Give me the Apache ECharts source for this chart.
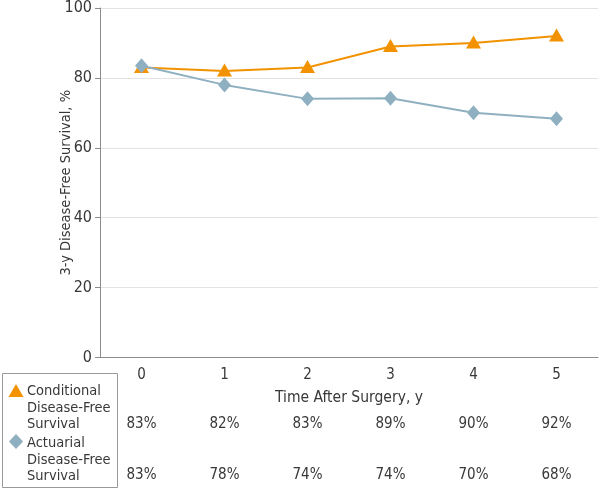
<!DOCTYPE html>
<html>
<head>
<meta charset="utf-8">
<script src="https://cdn.jsdelivr.net/npm/echarts@6/dist/echarts.min.js"></script>
<style>html,body{margin:0;padding:0;background:#fff;}#c{width:600px;height:490px;}</style>
</head>
<body>
<div id="c"></div>
<script>
var years = ['0', '1', '2', '3', '4', '5'];
var conditionalValues = [83, 82, 83, 89, 90, 92];
var actuarialValues = [83.5, 78, 74, 74.2, 70, 68.3];
var conditionalLabels = ['83%', '82%', '83%', '89%', '90%', '92%'];
var actuarialLabels = ['83%', '78%', '74%', '74%', '70%', '68%'];
var seriesNames = ['Conditional\nDisease-Free\nSurvival', 'Actuarial\nDisease-Free\nSurvival'];
var yTicks = [0, 20, 40, 60, 80, 100];

var FONT = '"DejaVu Sans Condensed", "DejaVu Sans", sans-serif';
var TXT = '#383838';
var ORANGE = '#F39200';
var BLUE = '#8FB0C0';

var chart = echarts.init(document.getElementById('c'), null, {renderer: 'canvas'});

function legendTexts(name, y0) {
  return name.split('\n').map(function (line, i) {
    return {
      type: 'text', left: 27, top: y0 + i * 16.5 - 8,
      style: {text: line, font: '14.5px ' + FONT, fill: TXT}
    };
  });
}

var graphics = [
  {type: 'rect', shape: {x: 2.5, y: 373.5, width: 115, height: 114}, style: {fill: 'none', stroke: '#999', lineWidth: 1}},
  {type: 'polygon', shape: {points: [[16, 384], [23.5, 397], [8.5, 397]]}, style: {fill: ORANGE}},
  {type: 'polygon', shape: {points: [[16, 434], [23, 441.5], [16, 449], [9, 441.5]]}, style: {fill: BLUE}}
].concat(legendTexts(seriesNames[0], 392)).concat(legendTexts(seriesNames[1], 444));

var baseX = {
  type: 'category', gridIndex: 0, position: 'bottom',
  boundaryGap: true,
  axisLine: {show: false}, axisTick: {show: false}, splitLine: {show: false},
  axisLabel: {fontFamily: FONT, fontSize: 15, color: TXT, margin: 10.5, interval: 0}
};

chart.setOption({
  animation: false,
  textStyle: {fontFamily: FONT},
  grid: {left: 100, right: 2, top: 6.5, bottom: 132.5, containLabel: false},
  xAxis: [
    {
      type: 'category', data: years, boundaryGap: true,
      name: 'Time After Surgery, y', nameLocation: 'middle', nameGap: 32,
      nameTextStyle: {fontFamily: FONT, fontSize: 15.5, color: TXT},
      axisLine: {lineStyle: {color: '#8c8c8c', width: 1}},
      axisTick: {alignWithLabel: true, length: 4, lineStyle: {color: '#8c8c8c'}},
      axisLabel: {fontFamily: FONT, fontSize: 15, color: TXT, margin: 10.5},
      splitLine: {show: false}
    },
    Object.assign({}, baseX, {data: conditionalLabels, offset: 48.5}),
    Object.assign({}, baseX, {data: actuarialLabels, offset: 100})
  ],
  yAxis: {
    type: 'value', min: yTicks[0], max: yTicks[yTicks.length - 1], interval: 20,
    name: '3-y Disease-Free Survival, %', nameLocation: 'middle', nameGap: 26,
    nameMoveOverlap: false,
    nameTextStyle: {fontFamily: FONT, fontSize: 14.5, color: TXT},
    axisLine: {show: true, lineStyle: {color: '#8c8c8c', width: 1}},
    axisTick: {show: true, length: 5, lineStyle: {color: '#8c8c8c'}},
    axisLabel: {fontFamily: FONT, fontSize: 16, color: TXT, margin: 8},
    splitLine: {lineStyle: {color: '#e3e3e3', width: 1}}
  },
  series: [
    {
      name: seriesNames[0], type: 'line', xAxisIndex: 0, data: conditionalValues,
      symbol: 'triangle', symbolSize: [15, 13], symbolOffset: [0, -1],
      lineStyle: {color: ORANGE, width: 2}, itemStyle: {color: ORANGE}, z: 2
    },
    {
      name: seriesNames[1], type: 'line', xAxisIndex: 0, data: actuarialValues,
      symbol: 'diamond', symbolSize: [13, 15],
      lineStyle: {color: BLUE, width: 2}, itemStyle: {color: BLUE}, z: 3
    }
  ],
  graphic: graphics
});
</script>
</body>
</html>
